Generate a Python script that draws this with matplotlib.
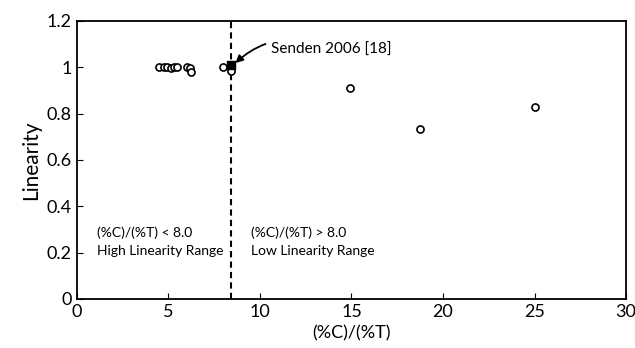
import matplotlib.pyplot as plt

plt.rcParams['font.family'] = ['Lato', 'DejaVu Sans']

# data
ratio = [4.5, 4.75, 4.95, 5.15, 5.3, 5.45, 6.0, 6.2, 6.25, 8.0, 8.4]
linearity = [1.0, 1.0, 1.0, 0.995, 1.0, 1.0, 1.0, 0.995, 0.98, 1.0, 0.985]
ratio_hi = [14.9, 18.75, 25.0]
linearity_hi = [0.91, 0.735, 0.83]
senden_x = [8.4]
senden_y = [1.01]
threshold = 8.4

fig = plt.figure(figsize=(6.35, 3.48), dpi=100)
ax = fig.add_axes([0.121, 0.141, 0.865, 0.799])

ax.scatter(ratio + ratio_hi, linearity + linearity_hi, s=26, facecolors='white',
           edgecolors='black', linewidths=1.2, zorder=3)
ax.scatter(senden_x, senden_y, marker='s', s=30, color='black', zorder=4)
ax.axvline(threshold, color='black', linestyle='--', linewidth=1.5, dashes=(3, 2))

ax.annotate('Senden 2006 [18]', xy=(8.55, 1.01), xytext=(10.6, 1.075),
            fontsize=11, va='center',
            arrowprops=dict(arrowstyle='-|>', color='black', lw=1.3,
                            connectionstyle='arc3,rad=0.35'))

ax.text(1.1, 0.245, '(%C)/(%T) < 8.0\nHigh Linearity Range', fontsize=10,
        va='center', linespacing=1.6)
ax.text(9.5, 0.245, '(%C)/(%T) > 8.0\nLow Linearity Range', fontsize=10,
        va='center', linespacing=1.6)

ax.set_xlim(0, 30)
ax.set_ylim(0, 1.2)
ax.set_xticks([0, 5, 10, 15, 20, 25, 30])
ax.set_yticks([0, 0.2, 0.4, 0.6, 0.8, 1.0, 1.2])
ax.set_yticklabels(['0', '0.2', '0.4', '0.6', '0.8', '1', '1.2'])
ax.tick_params(direction='in', labelsize=13, length=4)
ax.set_xlabel('(%C)/(%T)', fontsize=13)
ax.set_ylabel('Linearity', fontsize=15)
for s in ax.spines.values():
    s.set_linewidth(1.3)

fig.savefig('out.png', dpi=100)
